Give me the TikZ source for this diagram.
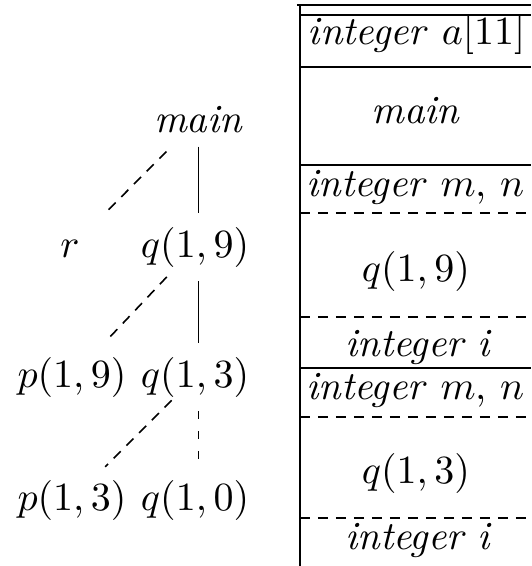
\documentclass[tikz,border=0pt]{standalone}
\usepackage{tikz}
\usetikzlibrary{calc}

\begin{document}
\begin{tikzpicture}[
  callline/.style={dash pattern=on 2.5pt off 2pt},
  cell/.style={anchor=base}]
\useasboundingbox (0,0) rectangle (4.667,-4.974);
% activation tree
\node[anchor=base] (main) at (1.745,-1.160) {\textit{main}};
\node[anchor=base] (r) at (0.615,-2.259) {$r$};
\node[anchor=base] (q19) at (1.714,-2.259) {$q(1,9)$};
\node[anchor=base] (p19) at (0.633,-3.401) {$p(1,9)$};
\node[anchor=base] (q13) at (1.714,-3.401) {$q(1,3)$};
\node[anchor=base] (p13) at (0.633,-4.482) {$p(1,3)$};
\node[anchor=base] (q10) at (1.714,-4.482) {$q(1,0)$};
\draw (main.south) -- (main.south |- q19.north);
\draw (q19.south -| main.south) -- (q13.north -| main.south);
\draw[dash pattern=on 2pt off 3pt] (q13.south -| main.south) -- (q10.north -| main.south);
\draw[callline] ($(main)!0.25!(r)$) -- ($(main)!0.73!(r)$);
\draw[callline] ($(q19)!0.23!(p19)$) -- ($(q19)!0.72!(p19)$);
\draw[callline] ($(q13)!0.19!(p13)$) -- ($(q13)!0.73!(p13)$);
% control stack
\draw (2.610,-0.044) -- (4.667,-0.044);
\draw (2.636,-0.044) -- (2.636,-4.974);
\foreach \y in {-0.132,-0.589,-1.450,-3.234}
  \draw (2.636,\y) -- (4.667,\y);
\foreach \y in {-1.872,-2.786,-3.665,-4.552}
  \draw[callline] (2.636,\y) -- (4.667,\y);
\node[cell] (arr) at (3.660,-0.387) {\textit{integer} $a[11]$};
\node[cell] (mainrec) at (3.655,-1.081) {\textit{main}};
\node[cell] (mn1) at (3.650,-1.731) {\textit{integer} $m$, $n$};
\node[cell] (q19rec) at (3.655,-2.478) {$q(1,9)$};
\node[cell] (i1) at (3.680,-3.137) {\textit{integer i}};
\node[cell] (mn2) at (3.650,-3.515) {\textit{integer} $m$, $n$};
\node[cell] (q13rec) at (3.655,-4.245) {$q(1,3)$};
\node[cell] (i2) at (3.680,-4.833) {\textit{integer i}};
\end{tikzpicture}
\end{document}
